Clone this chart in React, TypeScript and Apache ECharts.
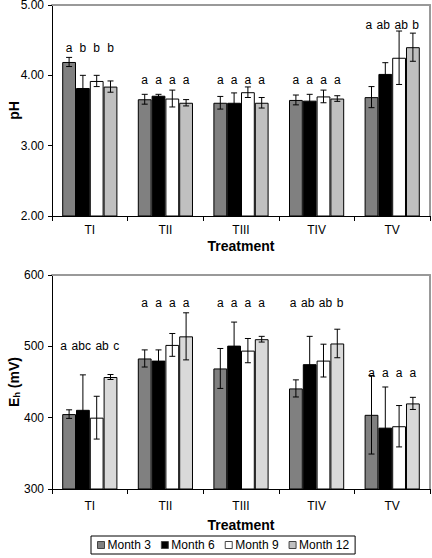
import React, { useEffect, useRef } from "react";
import * as echarts from "echarts";

const categories = ["TI", "TII", "TIII", "TIV", "TV"];
const months = ["Month 3", "Month 6", "Month 9", "Month 12"];

// pH means and errors per month
const phM3 = [4.19, 3.66, 3.61, 3.65, 3.69];
const phM6 = [3.82, 3.71, 3.61, 3.64, 4.02];
const phM9 = [3.92, 3.67, 3.76, 3.7, 4.25];
const phM12 = [3.84, 3.61, 3.61, 3.67, 4.4];
const phErrM3 = [0.065, 0.07, 0.09, 0.07, 0.15];
const phErrM6 = [0.18, 0.02, 0.14, 0.09, 0.16];
const phErrM9 = [0.08, 0.12, 0.075, 0.09, 0.38];
const phErrM12 = [0.08, 0.045, 0.075, 0.04, 0.2];
const phLetM3 = ["a", "a", "a", "a", "a"];
const phLetM6 = ["b", "a", "a", "a", "ab"];
const phLetM9 = ["b", "a", "a", "a", "ab"];
const phLetM12 = ["b", "a", "a", "a", "b"];
const phLetterLevel = [4.39, 3.94, 3.94, 3.94, 4.72];

// Eh means and errors per month
const ehM3 = [405, 483, 469, 441, 404];
const ehM6 = [411, 480, 501, 475, 386];
const ehM9 = [400, 502, 494, 480, 388];
const ehM12 = [457, 514, 510, 504, 420];
const ehErrM3 = [6, 12, 28, 12, 55];
const ehErrM6 = [49, 15, 33, 39, 57];
const ehErrM9 = [30, 16, 17, 23, 29];
const ehErrM12 = [3.5, 33, 4, 20, 8.5];
const ehLetM3 = ["a", "a", "a", "a", "a"];
const ehLetM6 = ["abc", "a", "a", "ab", "a"];
const ehLetM9 = ["ab", "a", "a", "ab", "a"];
const ehLetM12 = ["c", "a", "a", "b", "a"];
const ehLetterLevel = [500, 561, 561, 561, 462];

const GAP = 0.27;
const FONT = "'Liberation Sans', Arial, sans-serif";
const LETTER_FONT = `12px ${FONT}`;

let measureCtx: CanvasRenderingContext2D | null = null;
const textWidth = (t: string) => {
  if (!measureCtx) {
    const cv = document.createElement("canvas");
    measureCtx = cv.getContext("2d");
  }
  if (!measureCtx) return t.length * 6.7;
  measureCtx.font = LETTER_FONT;
  return measureCtx.measureText(t).width;
};

export default function App() {
  const ref = useRef<HTMLDivElement>(null);
  useEffect(() => {
    document.body.style.margin = "0";
    const chart = echarts.init(ref.current!, null, { renderer: "svg" });

    const phVals = [phM3, phM6, phM9, phM12];
    const phErrs = [phErrM3, phErrM6, phErrM9, phErrM12];
    const phLets = [phLetM3, phLetM6, phLetM9, phLetM12];
    const ehVals = [ehM3, ehM6, ehM9, ehM12];
    const ehErrs = [ehErrM3, ehErrM6, ehErrM9, ehErrM12];
    const ehLets = [ehLetM3, ehLetM6, ehLetM9, ehLetM12];
    const colorsTop = ["#808080", "#000000", "#ffffff", "#c0c0c0"];
    const colorsBot = ["#808080", "#000000", "#ffffff", "#d9d9d9"];

    const errData = (vals: number[][], errs: number[][]) => {
      const out: number[][] = [];
      vals.forEach((arr, s) => arr.forEach((v, c) => out.push([c, s, v, errs[s][c]])));
      return out;
    };

    const barOffsets = (api: any) => {
      const band = api.size([1, 0])[0];
      const gw = band * (1 - GAP);
      const bw = gw / 4;
      return [0, 1, 2, 3].map((s) => -gw / 2 + bw * (s + 0.5));
    };

    const errRender = (params: any, api: any) => {
      const c = api.value(0);
      const s = api.value(1);
      const v = api.value(2);
      const e = api.value(3);
      const off = barOffsets(api)[s];
      const top = api.coord([c, v + e]);
      const bot = api.coord([c, v - e]);
      const x = top[0] + off;
      const cap = 3;
      const st = { stroke: "#000", lineWidth: 1 };
      return {
        type: "group",
        children: [
          { type: "line", shape: { x1: x, y1: top[1], x2: x, y2: bot[1] }, style: st },
          { type: "line", shape: { x1: x - cap, y1: top[1], x2: x + cap, y2: top[1] }, style: st },
          { type: "line", shape: { x1: x - cap, y1: bot[1], x2: x + cap, y2: bot[1] }, style: st },
        ],
      };
    };

    // letters: one item per category; tokens centred on their bars unless they
    // would crowd, then laid out in a row centred on the group.
    const makeLetRender = (lets: string[][]) => (params: any, api: any) => {
      const c = api.value(0);
      const lv = api.value(1);
      const p = api.coord([c, lv]);
      const offs = barOffsets(api);
      const tokens = lets.map((arr) => arr[c]);
      const widths = tokens.map(textWidth);
      const minGap = 4.5;
      let centers = offs.map((o) => p[0] + o);
      let crowded = false;
      for (let i = 1; i < tokens.length; i++) {
        const gap = centers[i] - widths[i] / 2 - (centers[i - 1] + widths[i - 1] / 2);
        if (gap < minGap) crowded = true;
      }
      if (crowded) {
        const total = widths.reduce((a, b) => a + b, 0) + minGap * (tokens.length - 1);
        let x = p[0] - total / 2;
        centers = widths.map((w) => {
          const cx = x + w / 2;
          x += w + minGap;
          return cx;
        });
      }
      return {
        type: "group",
        children: tokens.map((t, i) => ({
          type: "text",
          x: centers[i],
          y: p[1],
          style: {
            text: t,
            fill: "#000",
            font: LETTER_FONT,
            align: "center",
            verticalAlign: "middle",
          },
        })),
      };
    };

    const xCat = (gridIndex: number, margin: number, nameGap: number) => ({
      type: "category",
      gridIndex,
      data: categories,
      boundaryGap: true,
      axisLine: { lineStyle: { color: "#000", width: 1 } },
      axisTick: { show: true, length: 5, interval: 0, lineStyle: { color: "#000" } },
      axisLabel: { color: "#000", fontSize: 12, margin, fontFamily: FONT },
      name: "Treatment",
      nameLocation: "middle",
      nameGap,
      nameMoveOverlap: false,
      nameTextStyle: { color: "#000", fontSize: 14, fontWeight: "bold", fontFamily: FONT },
      splitLine: { show: false },
    });

    const frameX = (gridIndex: number) => ({
      type: "value",
      gridIndex,
      position: "top",
      min: 0,
      max: 1,
      axisLine: { show: true, onZero: false, lineStyle: { color: "#999", width: 2 } },
      axisTick: { show: false },
      axisLabel: { show: false },
      splitLine: { show: false },
    });
    const frameY = (gridIndex: number) => ({
      type: "value",
      gridIndex,
      position: "right",
      min: 0,
      max: 1,
      axisLine: { show: true, onZero: false, lineStyle: { color: "#999", width: 2 } },
      axisTick: { show: false },
      axisLabel: { show: false },
      splitLine: { show: false },
    });

    const barSeries: any[] = [];
    months.forEach((m, s) => {
      barSeries.push({
        name: m,
        type: "bar",
        xAxisIndex: 0,
        yAxisIndex: 0,
        data: phVals[s],
        barGap: "0%",
        barCategoryGap: "27%",
        itemStyle: { color: colorsTop[s], borderColor: "#000", borderWidth: 1 },
        z: 2,
      });
    });
    months.forEach((m, s) => {
      barSeries.push({
        name: m,
        type: "bar",
        xAxisIndex: 1,
        yAxisIndex: 1,
        data: ehVals[s],
        barGap: "0%",
        barCategoryGap: "27%",
        itemStyle: { color: colorsBot[s], borderColor: "#000", borderWidth: 1 },
        z: 2,
      });
    });

    const option: any = {
      animation: false,
      backgroundColor: "#fff",
      textStyle: { fontFamily: FONT },
      grid: [
        { left: 52, top: 5, width: 378, height: 211, containLabel: false, outerBoundsMode: "none" },
        { left: 52, top: 275, width: 378, height: 214, containLabel: false, outerBoundsMode: "none" },
      ],
      xAxis: [xCat(0, 8, 23), xCat(1, 11, 29), frameX(0), frameX(1)],
      yAxis: [
        {
          type: "value",
          gridIndex: 0,
          min: 2,
          max: 5,
          interval: 1,
          axisLine: { show: true, lineStyle: { color: "#000" } },
          axisTick: { show: true, length: 4, lineStyle: { color: "#000" } },
          axisLabel: {
            color: "#000",
            fontSize: 12,
            margin: 8,
            fontFamily: FONT,
            formatter: (v: number) => v.toFixed(2),
          },
          splitLine: { show: false },
          name: "pH",
          nameLocation: "middle",
          nameGap: 31,
          nameMoveOverlap: false,
          nameTextStyle: { color: "#000", fontSize: 14, fontWeight: "bold", fontFamily: FONT },
        },
        {
          type: "value",
          gridIndex: 1,
          min: 300,
          max: 600,
          interval: 100,
          axisLine: { show: true, lineStyle: { color: "#000" } },
          axisTick: { show: true, length: 4, lineStyle: { color: "#000" } },
          axisLabel: { color: "#000", fontSize: 12, margin: 8, fontFamily: FONT },
          splitLine: { show: false },
          name: "{b|E}{s|h}{b| (mV)}",
          nameLocation: "middle",
          nameGap: 31,
          nameMoveOverlap: false,
          nameTextStyle: {
            color: "#000",
            fontFamily: FONT,
            rich: {
              b: { fontSize: 14, fontWeight: "bold", color: "#000", fontFamily: FONT },
              s: {
                fontSize: 9,
                fontWeight: "bold",
                color: "#000",
                fontFamily: FONT,
                padding: [6, 0, 0, 0],
              },
            },
          },
        },
        frameY(0),
        frameY(1),
      ],
      legend: {
        data: months,
        left: 91,
        top: 536,
        icon: "rect",
        itemWidth: 7,
        itemHeight: 7,
        itemGap: 10,
        padding: [3, 6, 3, 6],
        borderColor: "#000",
        borderWidth: 1,
        textStyle: { color: "#000", fontSize: 12, fontFamily: FONT, padding: [0, 0, 0, -2] },
        itemStyle: { borderColor: "#444", borderWidth: 1 },
      },
      series: [
        ...barSeries,
        {
          type: "custom",
          xAxisIndex: 0,
          yAxisIndex: 0,
          renderItem: errRender,
          data: errData(phVals, phErrs),
          z: 5,
          silent: true,
        },
        {
          type: "custom",
          xAxisIndex: 1,
          yAxisIndex: 1,
          renderItem: errRender,
          data: errData(ehVals, ehErrs),
          z: 5,
          silent: true,
        },
        {
          type: "custom",
          xAxisIndex: 0,
          yAxisIndex: 0,
          renderItem: makeLetRender(phLets),
          data: phLetterLevel.map((lv, c) => [c, lv]),
          z: 6,
          silent: true,
        },
        {
          type: "custom",
          xAxisIndex: 1,
          yAxisIndex: 1,
          renderItem: makeLetRender(ehLets),
          data: ehLetterLevel.map((lv, c) => [c, lv]),
          z: 6,
          silent: true,
        },
      ],
    };
    chart.setOption(option);
    return () => chart.dispose();
  }, []);
  return <div ref={ref} style={{ width: 432, height: 558 }} />;
}
